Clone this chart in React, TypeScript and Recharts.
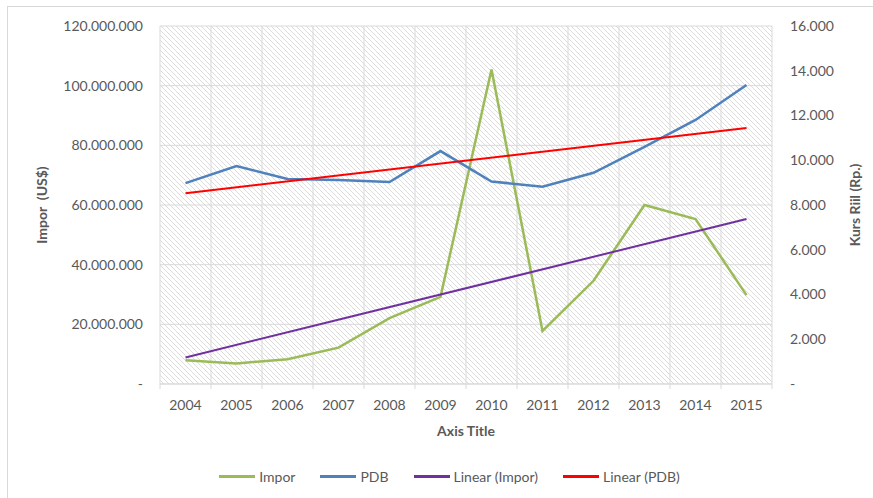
import React from "react";
import {
  CartesianGrid,
  Legend,
  Line,
  LineChart,
  XAxis,
  YAxis,
} from "recharts";

// Categories and series values
const years = ["2004", "2005", "2006", "2007", "2008", "2009", "2010", "2011", "2012", "2013", "2014", "2015"];
const impor = [8.0e6, 6.9e6, 8.3e6, 12.2e6, 22.1e6, 29.2e6, 105.4e6, 17.8e6, 34.6e6, 60.0e6, 55.3e6, 29.8e6];
const pdb = [8980, 9740, 9160, 9120, 9030, 10410, 9050, 8820, 9440, 10600, 11800, 13360];

// Trend lines: only the end points, joined straight across
const imporTrend: (number | null)[] = [8.9e6, null, null, null, null, null, null, null, null, null, null, 55.3e6];
const pdbTrend: (number | null)[] = [8530, null, null, null, null, null, null, null, null, null, null, 11440];

// Axis ticks
const leftTicks = [0, 20e6, 40e6, 60e6, 80e6, 100e6, 120e6];
const rightTicks = [0, 2000, 4000, 6000, 8000, 10000, 12000, 14000, 16000];

const chartData = years.map((year, i) => ({
  year,
  impor: impor[i],
  pdb: pdb[i],
  imporTrend: imporTrend[i],
  pdbTrend: pdbTrend[i],
}));

const FONT = "Lato, 'Open Sans', sans-serif";
const TEXT = "#595959";
const GRID = "#d9d9d9";
const HALF_BAND = 25.5;

const dotted = (v: number) =>
  v === 0 ? "-" : String(v).replace(/\B(?=(\d{3})+(?!\d))/g, ".");

const YearTick = (props: any) => {
  const { x, y, payload, index, visibleTicksCount } = props;
  const axisY = y - 16;
  return (
    <g>
      <line x1={x - HALF_BAND} x2={x - HALF_BAND} y1={axisY} y2={axisY + 5} stroke={GRID} />
      {index === (visibleTicksCount ?? 12) - 1 && (
        <line x1={x + HALF_BAND} x2={x + HALF_BAND} y1={axisY} y2={axisY + 5} stroke={GRID} />
      )}
      <text x={x} y={y} dy="0.71em" textAnchor="middle" fill={TEXT} fontSize={14} fontFamily={FONT}>
        {payload.value}
      </text>
    </g>
  );
};

const legendColors: Record<string, string> = {
  Impor: "#9bbb59",
  PDB: "#4f81bd",
  "Linear (Impor)": "#7030a0",
  "Linear (PDB)": "#ff0000",
};

const LegendBox = () => (
  <div style={{ display: "flex", justifyContent: "center", gap: 25, paddingLeft: 26, fontFamily: FONT, fontSize: 14, color: TEXT }}>
    {Object.keys(legendColors).map((name) => (
      <div key={name} style={{ display: "flex", alignItems: "center", gap: 4 }}>
        <span style={{ display: "inline-block", width: 36, height: 3, background: legendColors[name] }} />
        <span>{name}</span>
      </div>
    ))}
  </div>
);

export default function App() {
  return (
    <div style={{ position: "absolute", left: 0, top: 0, width: 873, height: 498, overflow: "hidden", background: "#fff" }}>
      <div style={{ position: "absolute", left: 7, top: 6, width: 900, height: 520, border: `1px solid ${GRID}` }} />
      <div style={{ position: "absolute", left: 0, top: 0 }}>
        <LineChart
          width={873}
          height={498}
          data={chartData}
          margin={{ top: 26, right: 13, left: 35, bottom: 59 }}
        >
          <defs>
            <pattern id="hatch" patternUnits="userSpaceOnUse" width="5" height="5">
              <rect width="5" height="5" fill="#ffffff" />
              <path d="M-1,4 l2,2 M0,0 l5,5 M4,-1 l2,2" stroke="#d8d8d8" strokeWidth="0.9" />
            </pattern>
          </defs>
          <CartesianGrid
            yAxisId="left"
            stroke={GRID}
            fill="url(#hatch)"
            fillOpacity={1}
            verticalCoordinatesGenerator={({ offset }: any) =>
              Array.from({ length: years.length + 1 }, (_, i) => offset.left + (i * offset.width) / years.length)
            }
          />
          <XAxis
            dataKey="year"
            interval={0}
            height={55}
            padding={{ left: HALF_BAND, right: HALF_BAND }}
            tickSize={6}
            tickMargin={10}
            tickLine={false}
            axisLine={{ stroke: GRID }}
            tick={<YearTick />}
            label={{
              value: "Axis Title",
              position: "insideBottom",
              offset: 3,
              style: { fontFamily: FONT, fontSize: 14, fontWeight: 700, fill: TEXT },
            }}
          />
          <YAxis
            yAxisId="left"
            width={125}
            domain={[0, 120e6]}
            ticks={leftTicks}
            tickFormatter={dotted}
            axisLine={false}
            tickLine={false}
            tickMargin={11}
            tick={{ fill: TEXT, fontSize: 14, fontFamily: FONT }}
            label={{
              value: "Impor\u00a0\u00a0(US$)",
              angle: -90,
              position: "insideLeft",
              offset: 7,
              style: { textAnchor: "middle", fontFamily: FONT, fontSize: 14, fontWeight: 700, fill: TEXT },
            }}
          />
          <YAxis
            yAxisId="right"
            orientation="right"
            width={88}
            domain={[0, 16000]}
            ticks={rightTicks}
            tickFormatter={dotted}
            axisLine={false}
            tickLine={false}
            tickMargin={12}
            tick={{ fill: TEXT, fontSize: 14, fontFamily: FONT, textAnchor: "start" }}
            label={{
              value: "Kurs Riil (Rp.)",
              angle: -90,
              position: "insideRight",
              offset: 5,
              style: { textAnchor: "middle", fontFamily: FONT, fontSize: 14, fontWeight: 700, fill: TEXT },
            }}
          />
          <Legend
            verticalAlign="middle"
            align="center"
            layout="horizontal"
            content={<LegendBox />}
            wrapperStyle={{ top: 468, left: 0, width: 873 }}
          />
          <Line yAxisId="left" dataKey="impor" name="Impor" stroke="#9bbb59" strokeWidth={2.5} dot={false} isAnimationActive={false} />
          <Line yAxisId="right" dataKey="pdb" name="PDB" stroke="#4f81bd" strokeWidth={2.5} dot={false} isAnimationActive={false} />
          <Line yAxisId="left" dataKey="imporTrend" name="Linear (Impor)" stroke="#7030a0" strokeWidth={2} dot={false} connectNulls isAnimationActive={false} />
          <Line yAxisId="right" dataKey="pdbTrend" name="Linear (PDB)" stroke="#ff0000" strokeWidth={2} dot={false} connectNulls isAnimationActive={false} />
        </LineChart>
      </div>
    </div>
  );
}
